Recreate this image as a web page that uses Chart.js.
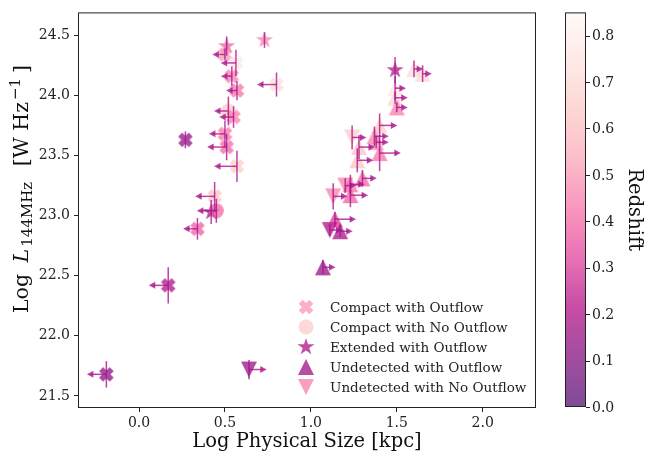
<!DOCTYPE html>
<html>
<head>
<meta charset="utf-8">
<script src="https://cdn.jsdelivr.net/npm/chart.js@4"></script>
<style>
  body { margin: 0; background: #fff; }
  #wrap { width: 646px; height: 454px; }
</style>
</head>
<body>
<div id="wrap"><canvas id="sizeChart" width="646" height="454"></canvas></div>
<script>
// ---- dados ----
const xTicks = [0.0, 0.5, 1.0, 1.5, 2.0];
const yTicks = [21.5, 22.0, 22.5, 23.0, 23.5, 24.0, 24.5];
const zTicks = [0.0, 0.1, 0.2, 0.3, 0.4, 0.5, 0.6, 0.7, 0.8];
const zMax = 0.85;

const categorias = ['Compact with Outflow', 'Compact with No Outflow', 'Extended with Outflow',
                    'Undetected with Outflow', 'Undetected with No Outflow'];
const legendaZ = [0.5, 0.66, 0.2, 0.17, 0.45];

// Compact with Outflow (X) - limite superior no tamanho (seta p/ esquerda)
const compOutX   = [0.50, 0.564, 0.54, 0.57, 0.80, 0.55, 0.50, 0.51, 0.57, 0.44, 0.34, 0.27, 0.17, -0.19];
const compOutY   = [24.34, 24.27, 24.16, 24.04, 24.09, 23.82, 23.68, 23.57, 23.41, 23.16, 22.89, 23.63, 22.42, 21.68];
const compOutZ   = [0.50, 0.75, 0.45, 0.42, 0.72, 0.45, 0.42, 0.40, 0.65, 0.62, 0.38, 0.15, 0.20, 0.12];
const compOutErr = [0.05, 0.11, 0.08, 0.08, 0.10, 0.09, 0.11, 0.11, 0.13, 0.12, 0.09, 0.07, 0.15, 0.11];
const compOutLim = [-0.05, -0.065, -0.04, -0.04, -0.09, -0.06, -0.07, -0.09, -0.11, -0.09, -0.06, 0, -0.09, -0.09];

// Compact with No Outflow (circulo)
const compNoX   = [0.52, 0.45];
const compNoY   = [23.87, 23.04];
const compNoZ   = [0.65, 0.40];
const compNoErr = [0.12, 0.10];
const compNoLim = [-0.06, -0.09];

// Extended with Outflow (estrela)
const extOutX   = [0.51, 0.73, 0.42, 1.49];
const extOutY   = [24.41, 24.46, 23.03, 24.21];
const extOutZ   = [0.38, 0.45, 0.13, 0.20];
const extOutErr = [0.08, 0.065, 0.10, 0.11];
const extOutLim = [0, 0, 0, 0];

// Undetected with Outflow (triangulo) - limite inferior (seta p/ direita)
const undOutX   = [1.60, 1.65, 1.49, 1.49, 1.50, 1.40, 1.37, 1.38, 1.28, 1.40, 1.27, 1.30, 1.23, 1.23, 1.14, 1.17, 1.07];
const undOutY   = [24.22, 24.18, 24.06, 23.98, 23.90, 23.75, 23.66, 23.61, 23.57, 23.52, 23.46, 23.31, 23.26, 23.17, 22.97, 22.87, 22.57];
const undOutZ   = [0.72, 0.70, 0.75, 0.70, 0.45, 0.65, 0.45, 0.50, 0.62, 0.42, 0.62, 0.40, 0.42, 0.38, 0.30, 0.18, 0.15];
const undOutErr = [0.07, 0.07, 0.10, 0.05, 0.04, 0.10, 0.08, 0.05, 0.10, 0.15, 0.10, 0.07, 0.08, 0.10, 0.06, 0.05, 0.06];
const undOutLim = [0.03, 0.03, 0.04, 0.05, 0.04, 0.08, 0.06, 0.05, 0.07, 0.10, 0.07, 0.06, 0.06, 0.08, 0.10, 0.05, 0.05];

// Undetected with No Outflow (triangulo invertido)
const undNoX   = [1.24, 1.13, 1.20, 1.11, 0.64];
const undNoY   = [23.65, 23.16, 23.25, 22.88, 21.72];
const undNoZ   = [0.65, 0.45, 0.45, 0.20, 0.15];
const undNoErr = [0.10, 0.11, 0.06, 0.05, 0.08];
const undNoLim = [0.06, 0.06, 0.04, 0.05, 0.08];

// ---- cores (RdPu invertido, alpha 0.7) ----
const rdpu = ['#fff7f3', '#fde0dd', '#fcc5c0', '#fa9fb5', '#f768a1', '#dd3497', '#ae017e', '#7a0177', '#49006a'];
function hex2rgb(h) {
    return [parseInt(h.slice(1, 3), 16), parseInt(h.slice(3, 5), 16), parseInt(h.slice(5, 7), 16)];
}
function corZ(z, alpha) {
    const t = 1 - Math.min(Math.max(z / zMax, 0), 1);
    const p = t * 8;
    const i = Math.min(Math.floor(p), 7);
    const f = p - i;
    const a = hex2rgb(rdpu[i]), b = hex2rgb(rdpu[i + 1]);
    const c = a.map((v, k) => Math.round(v + (b[k] - v) * f));
    return `rgba(${c[0]},${c[1]},${c[2]},${alpha === undefined ? 0.7 : alpha})`;
}

// ---- marcadores estilo matplotlib ----
const cacheMarcador = {};
function desenhaForma(g, forma, s) {
    g.beginPath();
    if (forma === 'X') {
        const w = s * 0.19, L = s * 0.5;
        g.save();
        g.rotate(Math.PI / 4);
        g.moveTo(-w, -L); g.lineTo(w, -L); g.lineTo(w, -w); g.lineTo(L, -w); g.lineTo(L, w);
        g.lineTo(w, w); g.lineTo(w, L); g.lineTo(-w, L); g.lineTo(-w, w); g.lineTo(-L, w);
        g.lineTo(-L, -w); g.lineTo(-w, -w); g.closePath();
        g.restore();
    } else if (forma === 'circle') {
        g.arc(0, 0, s / 2, 0, Math.PI * 2);
    } else if (forma === 'star') {
        const R = s / 2, r = R * 0.382;
        for (let k = 0; k < 10; k++) {
            const ang = -Math.PI / 2 + k * Math.PI / 5;
            const rr = k % 2 === 0 ? R : r;
            const px = Math.cos(ang) * rr, py = Math.sin(ang) * rr;
            k === 0 ? g.moveTo(px, py) : g.lineTo(px, py);
        }
        g.closePath();
    } else if (forma === 'tri') {
        g.moveTo(0, -s / 2); g.lineTo(s / 2, s / 2); g.lineTo(-s / 2, s / 2); g.closePath();
    } else if (forma === 'triDown') {
        g.moveTo(0, s / 2); g.lineTo(s / 2, -s / 2); g.lineTo(-s / 2, -s / 2); g.closePath();
    }
    g.fill();
}
function marcador(forma, cor, s) {
    const key = forma + cor + s;
    if (cacheMarcador[key]) return cacheMarcador[key];
    const c = document.createElement('canvas');
    c.width = c.height = Math.ceil(s) + 4;
    const g = c.getContext('2d');
    g.translate(c.width / 2, c.height / 2);
    g.fillStyle = cor;
    desenhaForma(g, forma, s);
    cacheMarcador[key] = c;
    return c;
}

const formas = ['X', 'circle', 'star', 'tri', 'triDown'];
const tamanhos = [15, 15, 18, 16, 16];
const series = [
    [compOutX, compOutY, compOutZ, compOutErr, compOutLim],
    [compNoX, compNoY, compNoZ, compNoErr, compNoLim],
    [extOutX, extOutY, extOutZ, extOutErr, extOutLim],
    [undOutX, undOutY, undOutZ, undOutErr, undOutLim],
    [undNoX, undNoY, undNoZ, undNoErr, undNoLim]
];

const datasets = series.map((s, k) => ({
    label: categorias[k],
    data: s[0].map((x, i) => ({ x: x, y: s[1][i], z: s[2][i], e: s[3][i], lim: s[4][i] })),
    pointStyle: function(ctx) {
        if (!ctx.raw) return 'circle';
        return marcador(formas[k], corZ(ctx.raw.z), tamanhos[k]);
    },
    pointRadius: 8,
    showLine: false
}));

const FONTE = 'DejaVu Serif';
const corErro = 'rgba(170,20,140,0.8)';

// ---- barras de erro e setas de limite ----
const pluginErro = {
    id: 'barrasErro',
    afterDatasetsDraw(chart) {
        const c = chart.ctx, xs = chart.scales.x, ys = chart.scales.y;
        c.save();
        c.strokeStyle = corErro;
        c.fillStyle = corErro;
        c.lineWidth = 1.5;
        chart.data.datasets.forEach((ds, k) => {
            chart.getDatasetMeta(k).data.forEach((el, i) => {
                const d = ds.data[i];
                const px = el.x, py = el.y;
                if (d.e) {
                    c.beginPath();
                    c.moveTo(px, ys.getPixelForValue(d.y - d.e));
                    c.lineTo(px, ys.getPixelForValue(d.y + d.e));
                    c.stroke();
                }
                if (d.lim) {
                    const ex = xs.getPixelForValue(d.x + d.lim);
                    const dir = d.lim > 0 ? 1 : -1;
                    c.beginPath();
                    c.moveTo(px, py);
                    c.lineTo(ex, py);
                    c.stroke();
                    c.beginPath();
                    c.moveTo(ex + dir * 4, py);
                    c.lineTo(ex - dir * 2.5, py - 3.5);
                    c.lineTo(ex - dir * 2.5, py + 3.5);
                    c.closePath();
                    c.fill();
                }
            });
        });
        c.restore();
    }
};

// ---- moldura, legenda, titulos e barra de cores ----
const pluginExtras = {
    id: 'extras',
    afterDraw(chart) {
        const c = chart.ctx, a = chart.chartArea;
        c.save();
        c.strokeStyle = '#222';
        c.lineWidth = 1;
        c.strokeRect(a.left + 0.5, a.top + 0.5, a.right - a.left - 1, a.bottom - a.top - 1);

        // legenda
        c.font = '13.5px "' + FONTE + '"';
        c.textBaseline = 'middle';
        c.textAlign = 'left';
        categorias.forEach((nome, k) => {
            const ly = 307 + k * 20;
            c.save();
            c.translate(306, ly);
            c.fillStyle = corZ(legendaZ[k]);
            desenhaForma(c, formas[k], tamanhos[k]);
            c.restore();
            c.fillStyle = '#222';
            c.fillText(nome, 330, ly + 1);
        });

        // titulo eixo x
        c.fillStyle = '#111';
        c.font = '19.5px "' + FONTE + '"';
        c.textAlign = 'center';
        c.textBaseline = 'alphabetic';
        c.fillText('Log Physical Size [kpc]', (a.left + a.right) / 2, 447);

        // titulo eixo y (com subscrito e sobrescrito)
        c.save();
        c.translate(28, 313);
        c.rotate(-Math.PI / 2);
        c.textAlign = 'left';
        let cx = 0;
        const parte = (txt, fonte, dy, gap) => {
            c.font = fonte;
            c.fillText(txt, cx, dy);
            cx += c.measureText(txt).width + gap;
        };
        parte('Log ', '20.5px "' + FONTE + '"', 0, 5);
        parte('L', 'italic 20.5px "' + FONTE + '"', 0, 2);
        parte('144MHz', '15px "' + FONTE + '"', 4, 9);
        parte(' [W Hz', '20.5px "' + FONTE + '"', 0, 2);
        parte('\u22121', '15px "' + FONTE + '"', -8, 5);
        parte(']', '20.5px "' + FONTE + '"', 0, 0);
        c.restore();

        // barra de cores
        const cbL = 565, cbR = 586, cbT = a.top, cbB = a.bottom - 1;
        const grad = c.createLinearGradient(0, cbB, 0, cbT);
        for (let k = 0; k <= 40; k++) {
            grad.addColorStop(k / 40, corZ(zMax * k / 40));
        }
        c.fillStyle = grad;
        c.fillRect(cbL, cbT, cbR - cbL, cbB - cbT);
        c.strokeStyle = '#222';
        c.strokeRect(cbL + 0.5, cbT + 0.5, cbR - cbL - 1, cbB - cbT - 1);
        c.font = '14px "' + FONTE + '"';
        c.textAlign = 'left';
        c.textBaseline = 'middle';
        c.fillStyle = '#222';
        zTicks.forEach(v => {
            const ty = cbB - (v / zMax) * (cbB - cbT);
            c.beginPath();
            c.moveTo(cbR, Math.round(ty) + 0.5);
            c.lineTo(cbR + 4, Math.round(ty) + 0.5);
            c.stroke();
            c.fillText(v.toFixed(1), cbR + 6, ty + 1);
        });
        c.save();
        c.translate(634, (cbT + cbB) / 2);
        c.rotate(Math.PI / 2);
        c.font = '19.5px "' + FONTE + '"';
        c.textAlign = 'center';
        c.textBaseline = 'middle';
        c.fillStyle = '#111';
        c.fillText('Redshift', 0, 0);
        c.restore();
        c.restore();
    }
};

const ctx = document.getElementById('sizeChart').getContext('2d');
const chart = new Chart(ctx, {
    type: 'scatter',
    data: { datasets: datasets },
    options: {
        responsive: false,
        animation: false,
        layout: { padding: { left: 0, right: 110, top: 8, bottom: 0 } },
        plugins: {
            legend: { display: false },
            tooltip: { enabled: false }
        },
        scales: {
            x: {
                type: 'linear',
                min: -0.355,
                max: 2.31,
                afterFit: s => { s.height = 46; },
                afterBuildTicks: s => { s.ticks = xTicks.map(v => ({ value: v })); },
                grid: { drawOnChartArea: false, tickLength: 4, color: '#222' },
                border: { display: false },
                ticks: {
                    padding: 3,
                    color: '#222',
                    font: { family: FONTE, size: 14 },
                    callback: v => Number(v).toFixed(1)
                }
            },
            y: {
                type: 'linear',
                min: 21.4,
                max: 24.69,
                afterFit: s => { s.width = 78; },
                afterBuildTicks: s => { s.ticks = yTicks.map(v => ({ value: v })); },
                grid: { drawOnChartArea: false, tickLength: 4, color: '#222' },
                border: { display: false },
                ticks: {
                    padding: 4,
                    color: '#222',
                    font: { family: FONTE, size: 14 },
                    callback: v => Number(v).toFixed(1)
                }
            }
        }
    },
    plugins: [pluginErro, pluginExtras]
});
</script>
</body>
</html>
